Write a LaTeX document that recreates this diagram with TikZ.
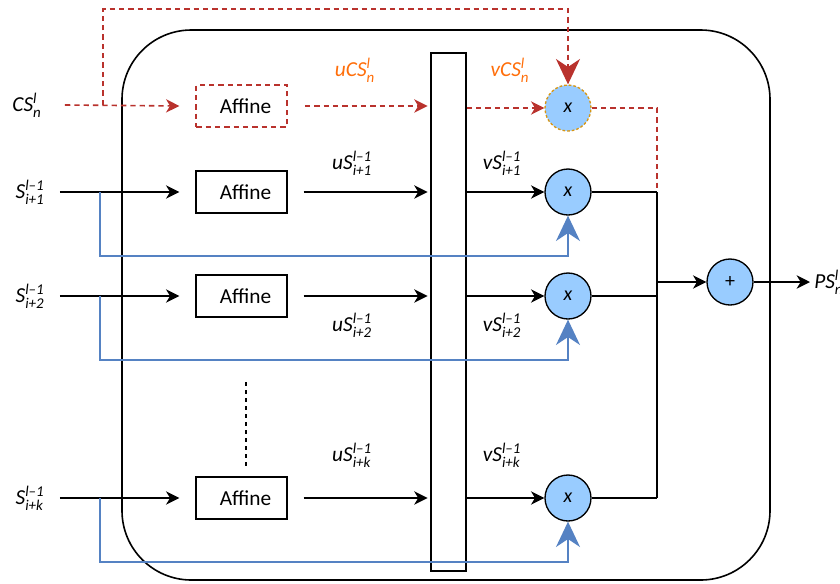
\documentclass[tikz,border=0pt]{standalone}
\usepackage{fontspec}
\usepackage{amsmath}
\setmainfont{Carlito}
\usetikzlibrary{arrows.meta}
\definecolor{cred}{RGB}{185,50,45}
\definecolor{corange}{RGB}{255,110,10}
\definecolor{cborder}{RGB}{215,150,20}
\definecolor{cblue}{RGB}{85,130,195}
\definecolor{cfill}{RGB}{153,204,255}
% symbol with super- and subscript, all italic
\newcommand{\sv}[3]{\textit{#1}$^{\textit{#2}}_{\textit{#3}}$}
\begin{document}
\begin{tikzpicture}[x=0.75pt,y=-0.75pt,font=\fontsize{16}{19}\selectfont,
    box/.style={draw,line width=1.2pt,minimum width=68pt,minimum height=31.5pt,inner sep=0pt},
    mult/.style={draw,circle,line width=1pt,fill=cfill,minimum size=34.5pt,inner sep=0pt,font=\fontsize{15}{18}\selectfont\itshape},
    line/.style={line width=1.2pt},
    arr/.style={line width=1.2pt,-{Stealth[length=10pt,width=10pt,inset=3pt]}},
    rdash/.style={draw=cred,line width=1.2pt,dash pattern=on 4pt off 3pt},
    rarr/.style={rdash,-{Stealth[length=10pt,width=10pt,inset=3pt]}},
    fb/.style={draw=cblue,line width=1.1pt,-{Stealth[length=19pt,width=18pt,inset=6pt]}}]
  \useasboundingbox (0,0) rectangle (840,583);
  % frame and concat bar
  \draw[line width=1.2pt,rounded corners=52pt] (122,30) rectangle (770,580);
  \node[draw,line width=1.2pt,fill=white,minimum width=26.25pt,minimum height=388.5pt,inner sep=0pt] (bar) at (448.5,312) {};

  % cell-state path
  \node (cs) at (27,105) {\sv{CS}{l}{n}};
  \node[box,draw=cred,dash pattern=on 4pt off 3pt] (a0) at (241.5,106) {\hspace*{6pt}Affine};
  \node[mult,draw=cborder,dash pattern=on 2pt off 1.5pt] (m0) at (568,108) {x};
  \node[text=corange] (u0) at (355,70) {\sv{uCS}{l}{n}};
  \node[text=corange] (v0) at (510,70) {\sv{vCS}{l}{n}};
  \coordinate (c0) at (103,105);
  \coordinate (j1) at (657,192);
  \coordinate (jk) at (657,498);
  \draw[rarr] ([xshift=14pt]cs.east) -- ([xshift=-12pt]a0.west);
  \draw[rarr] ([xshift=13pt]a0.east) -- ([xshift=-2pt]bar.west |- a0.east);
  \draw[rarr] (bar.east |- m0.west) -- (m0.west);
  \draw[rdash,-{Stealth[length=19pt,width=18pt,inset=6pt]}] (c0) -- ++(0,-96) -| (m0.north);
  \draw[rdash] (m0.east) -| (j1);

  % one row per neighbour state
  \foreach \n/\y/\s/\ly in {1/192/i+1/163, 2/296/i+2/325, k/498/i+k/455}{
    \node (s\n) at (30,\y) {\sv{S}{l–1}{\s}};
    \node[box] (a\n) at (241.5,\y) {\hspace*{6pt}Affine};
    \node[mult] (m\n) at (568,\y) {x};
    \node (u\n) at (352,\ly) {\sv{uS}{l–1}{\s}};
    \node (v\n) at (502,\ly) {\sv{vS}{l–1}{\s}};
    \coordinate (b\n) at (100,\y);
    \coordinate (j\n) at (657,\y);
    \draw[arr] ([xshift=8pt]s\n.east) -- ([xshift=-12pt]a\n.west);
    \draw[arr] ([xshift=12pt]a\n.east) -- ([xshift=-2pt]bar.west |- a\n.east);
    \draw[arr] (bar.east |- m\n.west) -- (m\n.west);
    \draw[line] (m\n.east) -- (j\n);
    \draw[fb] (b\n) -- ++(0,64) -| (m\n.south);
  }
  \draw[dashed,line width=1pt] (246,382) -- (246,467);

  % sum and output
  \draw[line] (j1) -- (jk);
  \node[mult,font=\fontsize{15}{18}\selectfont] (sum) at (730,282) {+};
  \coordinate (j0) at (657,282);
  \node[anchor=west,inner sep=0pt] (ps) at (814,282) {\sv{PS}{l}{n}};
  \draw[arr] (j0) -- (sum.west);
  \draw[arr] (sum.east) -- ([xshift=-3pt]ps.west);
\end{tikzpicture}
\end{document}
